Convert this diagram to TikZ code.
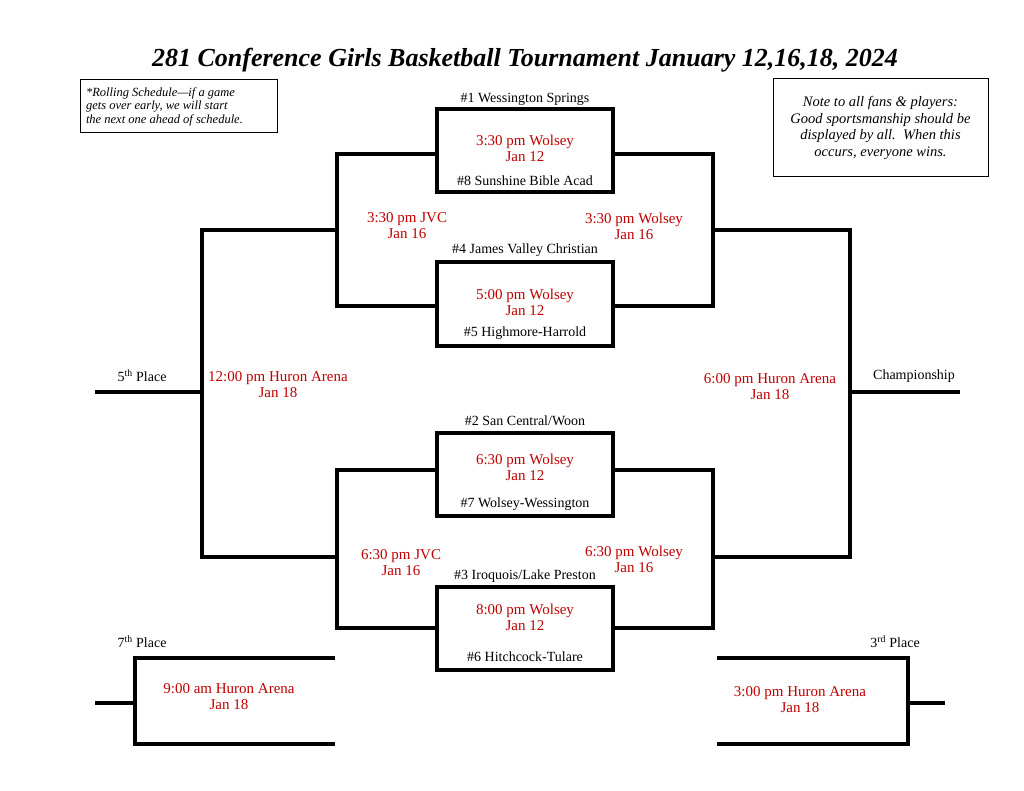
\documentclass[tikz,border=0pt]{standalone}
\usepackage{fontspec}
\setmainfont{Liberation Serif}
\begin{document}
\begin{tikzpicture}[x=1pt,y=-1pt,line width=4pt]
\tikzstyle{game} = [rectangle, draw=black, line width=4pt, minimum width=176pt, minimum height=83pt, inner sep=0pt]
\tikzstyle{time} = [text=red!75!black, align=center, font=\fontsize{15}{16}\selectfont]
\tikzstyle{team} = [font=\fontsize{14}{15}\selectfont]
\tikzstyle{note} = [rectangle, draw=black, line width=1pt, align=center, font=\itshape]
\useasboundingbox (0,0) rectangle (1024,791);

\node (title) at (525,60) {\fontsize{26}{30}\selectfont\bfseries\itshape 281 Conference Girls Basketball Tournament January 12,16,18, 2024};
\node (rolling) [note, minimum width=197pt, minimum height=53pt, text width=185pt, align=flush left, font=\itshape\fontsize{12.5}{13.5}\selectfont] at (178.5,106.5) {*Rolling Schedule---if a game\\gets over early, we will start\\the next one ahead of schedule.};
\node (sport) [note, minimum width=215pt, minimum height=98pt, font=\itshape\fontsize{14.5}{16.5}\selectfont] at (880.5,128) {Note to all fans \& players:\\Good sportsmanship should be\\displayed by all.\ \ When this\\occurs, everyone wins.};

% first round
\node (g1) [game] at (525,151) {};
\node (g2) [game] at (525,304) {};
\node (g3) [game] at (525,474) {};
\node (g4) [game] at (525,628) {};

\node[team] at (525,99) {\#1 Wessington Springs};
\node[time] at (525,148) {3:30 pm Wolsey\\Jan 12};
\node[team] at (525,181) {\#8 Sunshine Bible Acad};
\node[team] at (525,250) {\#4 James Valley Christian};
\node[time] at (525,302) {5:00 pm Wolsey\\Jan 12};
\node[team] at (525,333) {\#5 Highmore-Harrold};
\node[team] at (525,421) {\#2 San Central/Woon};
\node[time] at (525,467) {6:30 pm Wolsey\\Jan 12};
\node[team] at (525,504) {\#7 Wolsey-Wessington};
\node[team] at (525,576) {\#3 Iroquois/Lake Preston};
\node[time] at (525,617) {8:00 pm Wolsey\\Jan 12};
\node[team] at (525,657) {\#6 Hitchcock-Tulare};

% brackets
\draw (g1.west |- 0,154) -| (337,306) -- (g2.west |- 0,306);
\draw (g1.east |- 0,154) -| (713,306) -- (g2.east |- 0,306);
\draw (g3.west |- 0,470) -| (337,628) -- (g4.west |- 0,628);
\draw (g3.east |- 0,470) -| (713,628) -- (g4.east |- 0,628);
\draw (337,230) -| (202,557) -- (337,557);
\draw (713,230) -| (850,557) -- (713,557);
\draw (95,392) -- (202,392);
\draw (850,392) -- (960,392);
\draw (335,658) -| (135,744) -- (335,744);
\draw (95,703) -- (135,703);
\draw (717,658) -| (908,744) -- (717,744);
\draw (908,703) -- (945,703);

\node[time] at (407,226) {3:30 pm JVC\\Jan 16};
\node[time] at (634,226) {3:30 pm Wolsey\\Jan 16};
\node[time] at (401,563) {6:30 pm JVC\\Jan 16};
\node[time] at (634,559) {6:30 pm Wolsey\\Jan 16};
\node[time] at (278,385) {12:00 pm Huron Arena\\Jan 18};
\node[time] at (770,387) {6:00 pm Huron Arena\\Jan 18};
\node[time] at (229,697) {9:00 am Huron Arena\\Jan 18};
\node[time] at (800,700) {3:00 pm Huron Arena\\Jan 18};

\node[team] at (142,376) {5\textsuperscript{th} Place};
\node[team] at (914,376) {Championship};
\node[team] at (142,642) {7\textsuperscript{th} Place};
\node[team] at (895,642) {3\textsuperscript{rd} Place};
\end{tikzpicture}
\end{document}
